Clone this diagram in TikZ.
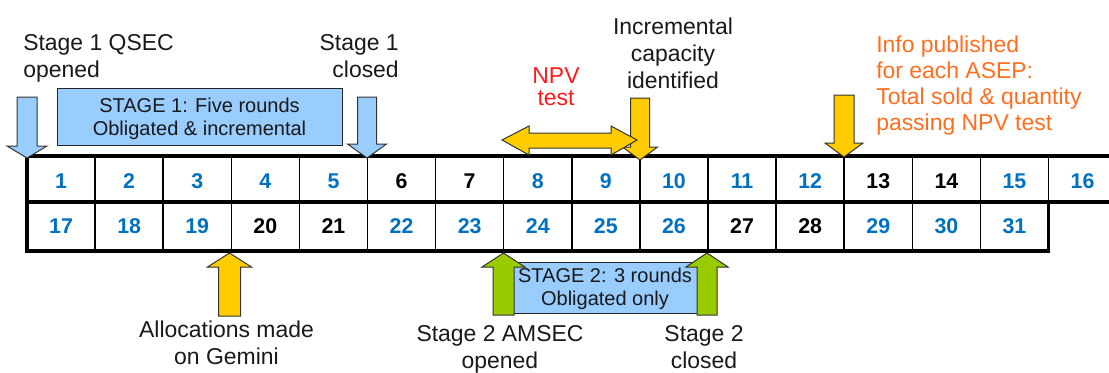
\documentclass[tikz,border=0pt]{standalone}
\usepackage{fontspec}
\setmainfont{Liberation Sans}
\definecolor{numblue}{HTML}{0070C0}
\definecolor{lightblue}{HTML}{99CCFF}
\definecolor{gold}{HTML}{FFCC00}
\definecolor{lime}{HTML}{99CC00}
\definecolor{npvred}{HTML}{FF1A1A}
\definecolor{infoorange}{HTML}{FF6E1E}
\newcommand{\vertarrow}[7]{%
  \filldraw[arrowshape,fill=#7]
  (#1,#2) -- ({#1+#4},#5) -- ({#1+#3},#5) -- ({#1+#3},#6) -- ({#1-#3},#6) -- ({#1-#3},#5) -- ({#1-#4},#5) -- cycle;}
\begin{document}
\begin{tikzpicture}[x=0.75pt,y=-0.75pt,
  arrowshape/.style={draw=black!80,line width=0.75pt,line join=miter},
  thickline/.style={line width=2.4pt,line cap=rect},
  thinline/.style={line width=1.1pt},
  lbl/.style={font=\fontsize{17.2}{20.25}\selectfont,inner sep=0pt,text=black!90},
  boxtxt/.style={font=\fontsize{15}{17.25}\selectfont,inner sep=0pt,align=center,anchor=base,text=black!90},
  num/.style={font=\bfseries\fontsize{16}{18}\selectfont,inner sep=0pt},
  stagebox/.style={fill=lightblue,draw=black!85,line width=0.75pt}]
\useasboundingbox (0,0) rectangle (1109,372);

% stage boxes
\filldraw[stagebox] (57,88) rectangle (342,145);
\filldraw[stagebox] (500,262) rectangle (710,313);

% grid
\foreach \i in {1,...,15}{
  \draw[thinline] ({27+68.1*\i},156) -- ({27+68.1*\i},202);}
\foreach \i in {1,...,14}{
  \draw[thinline] ({27+68.1*\i},202) -- ({27+68.1*\i},251);}
\draw[thickline] (1048.5,202) -- (1048.5,251);
\draw[thickline] (27,156) -- (27,251);
\draw[thickline] (27,156) -- (1112,156);
\draw[thickline] (27,202) -- (1112,202);
\draw[thickline] (27,251) -- (1048.5,251);

% numbers
\foreach \n/\c in {1/numblue,2/numblue,3/numblue,4/numblue,5/numblue,6/black,7/black,8/numblue,9/numblue,10/numblue,11/numblue,12/numblue,13/black,14/black,15/numblue,16/numblue}{
  \node[num,text=\c] (c\n) at ({27+68.1*(\n-0.5)},181) {\n};}
\foreach \n/\c in {17/numblue,18/numblue,19/numblue,20/black,21/black,22/numblue,23/numblue,24/numblue,25/numblue,26/numblue,27/black,28/black,29/numblue,30/numblue,31/numblue}{
  \node[num,text=\c] (c\n) at ({27+68.1*(\n-16.5)},226.5) {\n};}

% arrows above the grid
\vertarrow{27}{158}{10}{20}{146}{97}{lightblue}
\vertarrow{367}{158}{9.5}{19.5}{144}{97}{lightblue}
\vertarrow{640}{160}{9.5}{17.5}{147}{98}{gold}
\vertarrow{844}{157}{10}{19}{143}{95}{gold}
\filldraw[arrowshape,fill=gold] (502,140) -- (529,126) -- (529,133) -- (611,133) -- (611,126) -- (637,140) -- (611,155) -- (611,148) -- (529,148) -- (529,155) -- cycle;

% arrows below the grid
\vertarrow{229.5}{253}{11}{22}{267}{316}{gold}
\vertarrow{503.5}{253}{10.5}{21.5}{267}{315}{lime}
\vertarrow{707}{253}{10}{21}{267}{315}{lime}

% box texts (anchored at the baseline of the last line)
\node[boxtxt] (stage1) at (199.5,135) {STAGE 1: Five rounds\\Obligated \& incremental};
\node[boxtxt] (stage2) at (605,305) {STAGE 2: 3 rounds\\Obligated only};

% labels (anchored at the baseline of the last line)
\node[lbl,anchor=base west,align=left] (s1open) at (23,77) {Stage 1 QSEC\\opened};
\node[lbl,anchor=base east,align=right] (s1close) at (399,77) {Stage 1\\closed};
\node[lbl,anchor=base,align=center] (inc) at (673,88) {Incremental\\capacity\\identified};
\node[lbl,anchor=base,align=center,text=npvred,font=\fontsize{17.2}{16}\selectfont] (npv) at (556,105) {NPV\\test};
\node[lbl,anchor=base west,align=left,text=infoorange,font=\fontsize{17.2}{19.5}\selectfont] (info) at (876,130) {Info published\\for each ASEP:\\Total sold \& quantity\\passing NPV test};
\node[lbl,anchor=base,align=center] (alloc) at (226.5,364) {Allocations made\\on Gemini};
\node[lbl,anchor=base,align=center] (s2open) at (500,368) {Stage 2 AMSEC\\opened};
\node[lbl,anchor=base,align=center] (s2close) at (704,368) {Stage 2\\closed};
\end{tikzpicture}
\end{document}
